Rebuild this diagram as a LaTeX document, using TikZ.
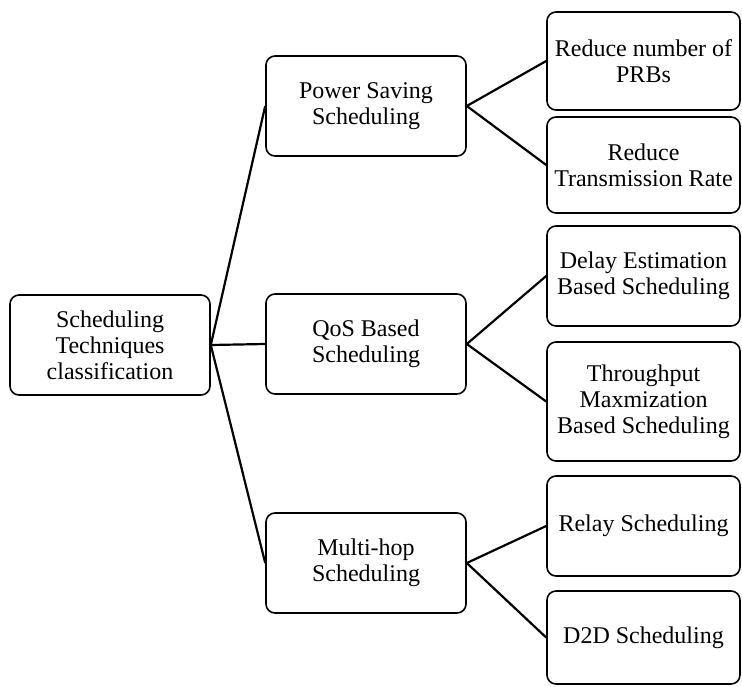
\documentclass[tikz,border=0pt]{standalone}
\usepackage{fontspec}
\setmainfont{Liberation Serif}
\begin{document}
\begin{tikzpicture}[x=1pt,y=-1pt,
  box/.style={draw, line width=1.6pt, rounded corners=9pt, align=center,
    inner sep=0pt, font=\fontsize{24}{26}\selectfont},
  midbox/.style={box, minimum width=200pt, minimum height=100pt},
  leafbox/.style={box, minimum width=193pt},
  link/.style={line width=2.2pt}]
\useasboundingbox (0,0) rectangle (742,686);

% root
\node[box, minimum width=200pt, minimum height=100pt] (root) at (110,345)
  {Scheduling\\Techniques\\classification};

% second level
\node[midbox] (ps)  at (366,106) {Power Saving\\Scheduling};
\node[midbox] (qos) at (366,344) {QoS Based\\Scheduling};
\node[midbox] (mh)  at (366,563) {Multi-hop\\Scheduling};

% leaves
\node[leafbox, minimum height=98pt]  (prb)  at (643.5,61)    {Reduce number of\\PRBs};
\node[leafbox, minimum height=96pt]  (rtr)  at (643.5,165)   {Reduce\\Transmission Rate};
\node[leafbox, minimum height=100pt] (des)  at (643.5,276)   {Delay Estimation\\Based Scheduling};
\node[leafbox, minimum height=119pt] (tms)  at (643.5,401.5) {Throughput\\Maxmization\\Based Scheduling};
\node[leafbox, minimum height=100pt] (rel)  at (643.5,526)   {Relay Scheduling};
\node[leafbox, minimum height=93pt]  (d2d)  at (643.5,637.5) {D2D Scheduling};

% connectors
\draw[link] (root.east) -- (ps.west);
\draw[link] (root.east) -- (qos.west);
\draw[link] (root.east) -- (mh.west);
\draw[link] (ps.east) -- (prb.west);
\draw[link] (ps.east) -- (rtr.west);
\draw[link] (qos.east) -- (des.west);
\draw[link] (qos.east) -- (tms.west);
\draw[link] (mh.east) -- (rel.west);
\draw[link] (mh.east) -- (d2d.west);
\end{tikzpicture}
\end{document}
